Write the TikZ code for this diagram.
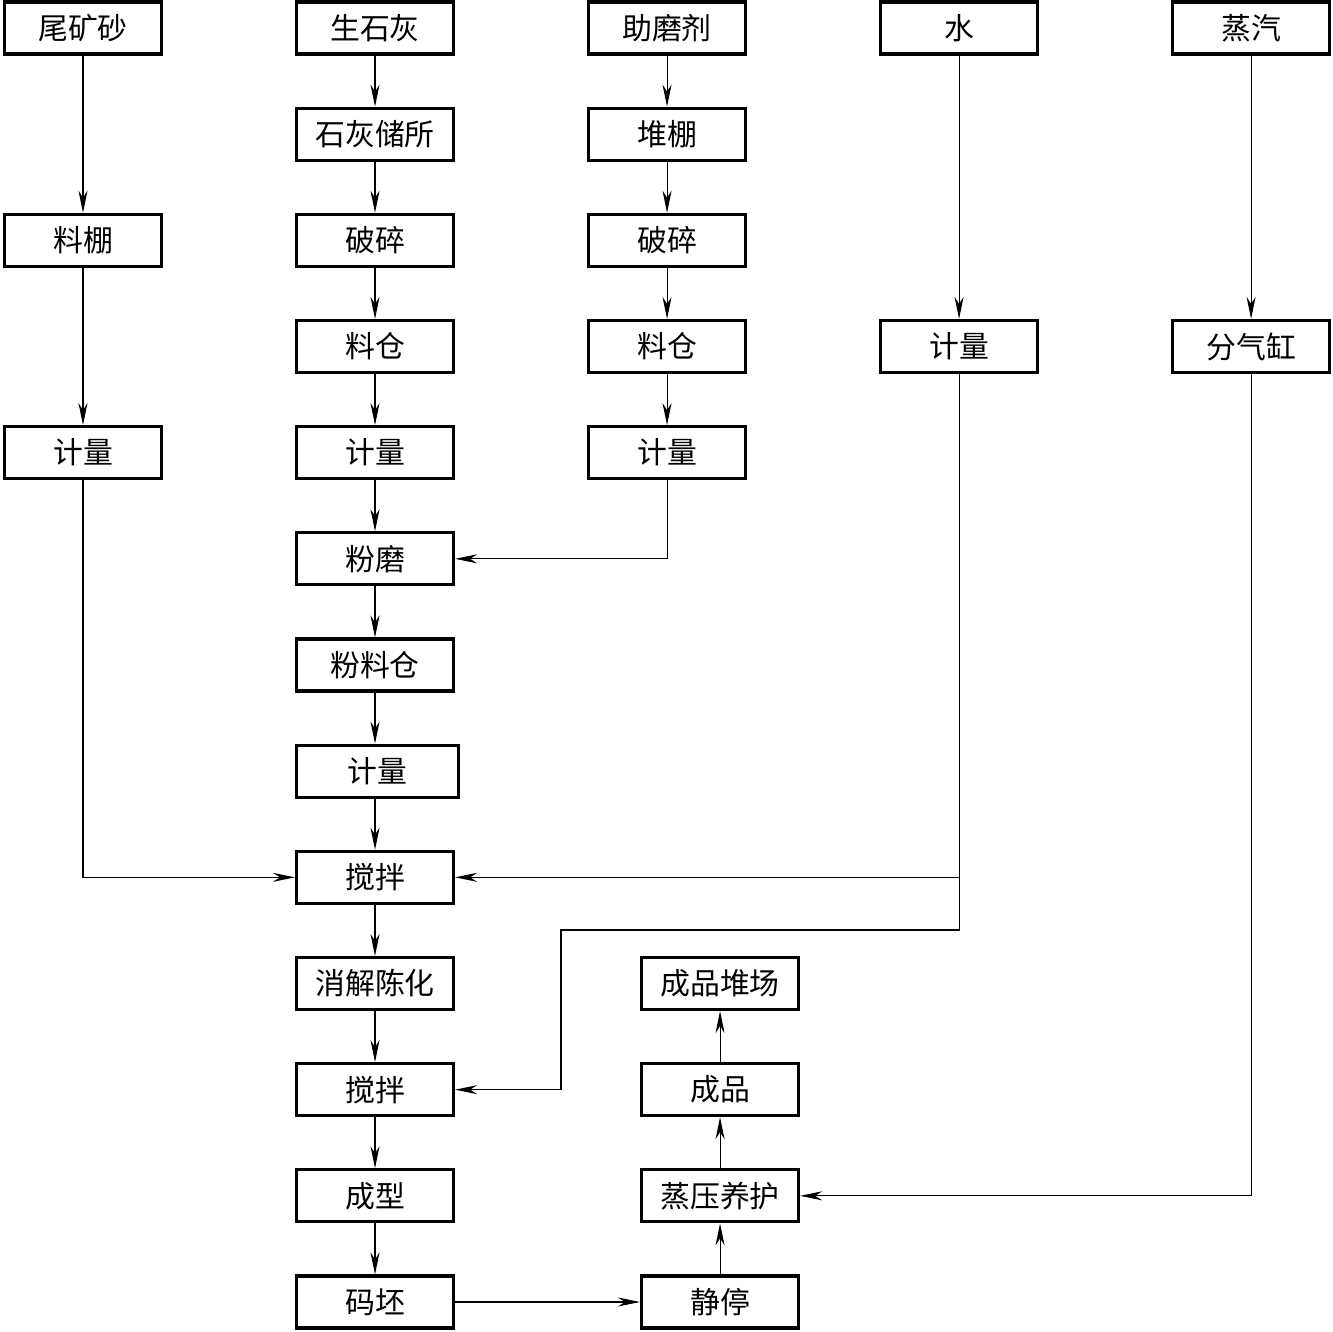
\documentclass[tikz,border=0pt]{standalone}
\usepackage{fontspec}
\setmainfont{Noto Sans CJK SC}
\usepackage{tikz}
\usetikzlibrary{arrows.meta,positioning}
\definecolor{ink}{HTML}{000000}

\begin{document}
\begin{tikzpicture}[
  x=0.2mm,y=-0.2mm,
  node distance=10.2mm and 26.37mm,
  box/.style={draw=ink,line width=1.8pt,minimum width=31.4mm,minimum height=10.4mm,inner sep=0pt,align=center,font=\fontsize{17}{19}\selectfont},
  arrow/.style={-{Stealth[length=4.4mm,width=1.8mm,inset=1.4mm]},line width=0.6pt,draw=ink}
]
\useasboundingbox (0,0) rectangle (1333,1331);
% raw materials
\node[box] at (83,28) (tail) {尾矿砂};
\node[box,right=of tail] (lime) {生石灰};
\node[box,right=of lime] (aid) {助磨剂};
\node[box,right=of aid] (water) {水};
\node[box,right=of water] (steam) {蒸汽};
% tailings
\node[box,below=31.43mm of tail] (tailshed) {料棚};
\node[box,below=31.43mm of tailshed] (tailmeas) {计量};
% lime line
\node[box,below=of lime] (limeshed) {石灰储所};
\node[box,below=of limeshed] (limecrush) {破碎};
\node[box,below=of limecrush] (limebin) {料仓};
\node[box,below=of limebin] (limemeas) {计量};
\node[box,below=of limemeas] (mill) {粉磨};
\node[box,below=of mill] (powbin) {粉料仓};
\node[box,below=of powbin,minimum width=32.4mm,xshift=0.5mm] (powmeas) {计量};
\node[box,below=of powmeas,xshift=-0.5mm] (mixa) {搅拌};
\node[box,below=of mixa] (age) {消解陈化};
\node[box,below=of age] (mixb) {搅拌};
\node[box,below=of mixb] (form) {成型};
\node[box,below=of form] (stack) {码坯};
% grinding aid
\node[box,below=of aid] (aidshed) {堆棚};
\node[box,below=of aidshed] (aidcrush) {破碎};
\node[box,below=of aidcrush] (aidbin) {料仓};
\node[box,below=of aidbin] (aidmeas) {计量};
% water and steam
\node[box,right=of aidbin] (watermeas) {计量};
\node[box,right=of watermeas] (cyl) {分气缸};
% curing
\node[box,right=36.97mm of stack] (rest) {静停};
\node[box,above=of rest] (cure) {蒸压养护};
\node[box,above=of cure] (prod) {成品};
\node[box,above=of prod] (yard) {成品堆场};
\coordinate (turn) at (561,930);

\draw[arrow] (tail) -- (tailshed);
\draw[arrow] (tailshed) -- (tailmeas);
\draw[arrow] (tailmeas) |- (mixa);
\foreach \a/\b in {lime/limeshed,limeshed/limecrush,limecrush/limebin,limebin/limemeas,limemeas/mill,mill/powbin,age/mixb,mixb/form,form/stack}
  \draw[arrow] (\a) -- (\b);
\draw[arrow] (powbin.south) -- (powbin.south|-powmeas.north);
\draw[arrow] (mixa.north|-powmeas.south) -- (mixa);
\draw[arrow] (mixa) -- (age);
\foreach \a/\b in {aid/aidshed,aidshed/aidcrush,aidcrush/aidbin,aidbin/aidmeas}
  \draw[arrow] (\a) -- (\b);
\draw[arrow] (aidmeas) |- (mill);
\draw[arrow] (water) -- (watermeas);
\draw[arrow] (watermeas) |- (mixa);
\draw[arrow] (watermeas) |- (turn) |- (mixb);
\draw[arrow] (steam) -- (cyl);
\draw[arrow] (cyl) |- (cure);
\draw[arrow] (stack) -- (rest);
\draw[arrow] (rest) -- (cure);
\draw[arrow] (cure) -- (prod);
\draw[arrow] (prod) -- (yard);
\end{tikzpicture}
\end{document}
